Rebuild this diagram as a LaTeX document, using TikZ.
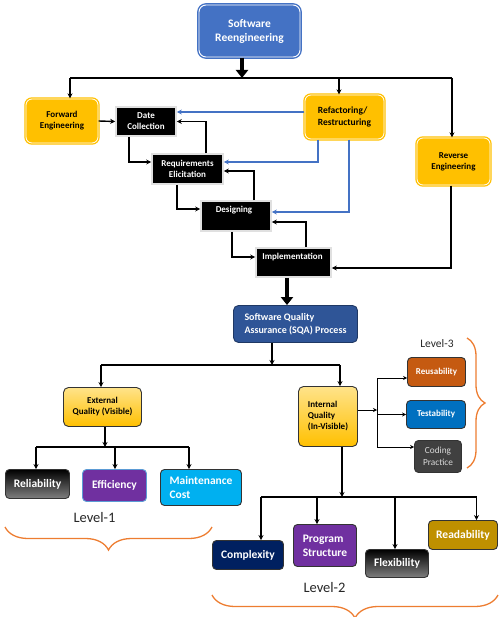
\documentclass[tikz,border=0pt]{standalone}
\usepackage{fontspec}
\setmainfont{Carlito}
\usetikzlibrary{arrows.meta,decorations.pathreplacing}
\definecolor{gold}{HTML}{FFC000}
\definecolor{goldlt}{HTML}{FFE38A}
\definecolor{bluetop}{HTML}{4472C4}
\definecolor{sqablue}{HTML}{2F5597}
\definecolor{sqadark}{HTML}{1F3864}
\definecolor{purp}{HTML}{7030A0}
\definecolor{cyanb}{HTML}{00B0F0}
\definecolor{rust}{HTML}{C55A11}
\definecolor{tblue}{HTML}{0070C0}
\definecolor{dgray}{HTML}{404040}
\definecolor{navy}{HTML}{002060}
\definecolor{dgold}{HTML}{BF9000}
\definecolor{orng}{HTML}{ED7D31}
\definecolor{lblue}{HTML}{5B9BD5}
\newcommand{\fs}[1]{\fontsize{#1}{#1*1.2}\selectfont}
\begin{document}
\begin{tikzpicture}[x=1pt,y=-1pt,
  goldbox/.style={draw=gold, double=white, double distance=0.8pt, line width=1.3pt, fill=gold,
    rounded corners=6pt, font=\bfseries\fontsize{9}{11}\selectfont, align=center, inner sep=1pt},
  bluebox/.style={draw=bluetop, double=white, double distance=0.9pt, line width=1.4pt, fill=bluetop,
    rounded corners=7pt, text=white, font=\bfseries\fontsize{11.5}{14}\selectfont, align=center, inner sep=1pt},
  blkbox/.style={fill=black, draw=black!12, line width=1.6pt, text=white,
    font=\bfseries\fontsize{9}{11}\selectfont, align=center, inner sep=1pt},
  wtext/.style={text=white, font=\bfseries\fontsize{9}{11}\selectfont, inner sep=0pt},
  qbox/.style={rounded corners=5pt, draw=black!80, line width=0.9pt, inner sep=1pt,
    font=\bfseries\fontsize{9}{11}\selectfont, align=left},
  lvbox/.style={rounded corners=4pt, draw=black!80, line width=0.9pt, inner sep=1pt, text=white,
    font=\bfseries\fontsize{11.5}{14}\selectfont, align=left},
  smbox/.style={rounded corners=4pt, draw=black!80, line width=0.9pt, inner sep=1pt, text=white,
    font=\bfseries\fontsize{9}{11}\selectfont, align=center},
  lvtext/.style={font=\fontsize{14.5}{17}\selectfont, text=black!85, inner sep=0pt},
  ln/.style={line width=1.4pt, black},
  arr/.style={ln, -{Stealth[length=5pt,width=5pt]}},
  barr/.style={line width=1.2pt, bluetop, -{Stealth[length=5pt,width=5pt]}},
  thk/.style={line width=3.5pt, -{Triangle[length=8pt,width=12pt]}},
  tarr/.style={line width=0.7pt, -{Stealth[length=4pt,width=4pt]}},
  brc/.style={draw=orng, line width=1.3pt, decorate},
]
\useasboundingbox (0,0) rectangle (503,617);

% ---- top part ----
\node[bluebox, minimum width=101pt, minimum height=52pt] (top) at (249.5,31) {Software\\Reengineering};
\node[goldbox, minimum width=72pt, minimum height=44pt] (fwd) at (62,121) {Forward\\Engineering};
\node[blkbox, minimum width=60pt, minimum height=29pt] (date) at (146,121.5) {Date\\Collection};
\node[goldbox, align=left, font=\bfseries\fontsize{9.5}{12}\selectfont, minimum width=79pt, minimum height=44pt] (refac) at (344.5,117) {Refactoring/\\Restructuring};
\node[goldbox, minimum width=73pt, minimum height=47pt] (rev) at (453.5,161.5) {Reverse\\Engineering};
\node[blkbox, minimum width=71pt, minimum height=30pt] (req) at (187.5,169) {Requirements\\Elicitation};
\node[blkbox, minimum width=70pt, minimum height=30pt] (des) at (236,216) {};
\node[wtext] (desT) at (234,210) {Designing};
\node[blkbox, minimum width=75pt, minimum height=29pt] (imp) at (293.5,262.5) {};
\node[wtext] (impT) at (292.5,257.5) {Implementation};

\coordinate (b1) at (242,78);
\coordinate (b1L) at (70,78);
\coordinate (b1M) at (339,78);
\coordinate (b1R) at (452,78);
\draw[thk] ([xshift=-7.5pt]top.south) -- (b1);
\draw[ln] (b1L) -- (b1R);
\draw[arr] (b1L) -- (b1L |- fwd.north);
\draw[arr] (b1M) -- (b1M |- refac.north);
\draw[arr] (b1R) -- (b1R |- rev.north);

\draw[arr] (fwd.east) -- (date.west);
\draw[arr] ([xshift=-17pt]date.south) |- ([yshift=7pt]req.west);
\draw[arr] ([xshift=18.5pt]req.north) |- (date.east);
\draw[barr] ([yshift=5pt]refac.west) -- ([yshift=9.5pt]date.east);
\draw[barr] ([xshift=-26.5pt]refac.south) |- ([yshift=7pt]req.east);
\draw[barr] ([xshift=4.5pt]refac.south) |- ([yshift=4pt]des.east);
\draw[arr] ([xshift=-10.5pt]req.south) |- ([yshift=7pt]des.west);
\draw[arr] ([xshift=18pt]des.north) |- ([yshift=-2pt]req.east);
\draw[arr] ([xshift=-4pt]des.south) |- ([yshift=5.5pt]imp.west);
\draw[arr] ([xshift=12.5pt]imp.north) |- ([yshift=-6pt]des.east);
\draw[arr] ([xshift=-2.5pt]rev.south) |- ([yshift=-5.5pt]imp.east);

% ---- SQA ----
\node[qbox, fill=sqablue, draw=sqadark, text=white, font=\bfseries\fontsize{10}{12.5}\selectfont, minimum width=124pt, minimum height=37pt] (sqa) at (295.5,324) {Software Quality\\Assurance (SQA) Process};
\draw[thk] ([xshift=-6.5pt]imp.south) -- ([xshift=-8.5pt]sqa.north);

\node[qbox, top color=goldlt, bottom color=gold, align=center, minimum width=78pt, minimum height=39pt] (ext) at (102.5,407) {External\\Quality (Visible)};
\node[qbox, top color=goldlt, bottom color=gold, minimum width=59pt, minimum height=60pt] (int) at (328,416.5) {Internal\\Quality\\(In-Visible)};

\coordinate (qb) at (272,365);
\coordinate (qbL) at (101,365);
\coordinate (qbR) at (340,365);
\draw[arr] ([xshift=-23.5pt]sqa.south) -- (qb);
\draw[ln] (qbL) -- (qbR);
\draw[arr] (qbL) -- (qbL |- ext.north);
\draw[arr] (qbR) -- (qbR |- int.north);

% ---- Level-1 ----
\node[lvbox, top color=black, bottom color=black!50, align=center, minimum width=64pt, minimum height=29pt] (rel) at (37.5,484) {Reliability};
\node[lvbox, fill=purp, draw=lblue, align=center, minimum width=64pt, minimum height=32pt] (eff) at (114.5,485.5) {Efficiency};
\node[lvbox, fill=cyanb, minimum width=81pt, minimum height=36pt] (mnt) at (201,487.5) {Maintenance\\Cost};

\coordinate (eb) at (105,447);
\coordinate (ebL) at (36,447);
\coordinate (ebM) at (115,447);
\coordinate (ebR) at (189,447);
\draw[arr] ([xshift=2.5pt]ext.south) -- (eb);
\draw[ln] (ebL) -- (ebR);
\draw[arr] (ebL) -- (ebL |- rel.north);
\draw[arr] (ebM) -- (ebM |- eff.north);
\draw[arr] (ebR) -- (ebR |- mnt.north);

\node[lvtext] (lv1) at (94.5,518) {Level-1};
\draw[brc, decoration={brace, mirror, amplitude=23pt}] (5,527) -- (212,527);

% ---- Level-3 ----
\node[smbox, fill=rust, minimum width=58pt, minimum height=29pt] (reu) at (436.5,372) {Reusability};
\node[smbox, fill=tblue, minimum width=59pt, minimum height=28pt] (tst) at (436,414.5) {Testability};
\node[smbox, fill=dgray, text=black!15, font=\fontsize{9.3}{11.5}\selectfont, minimum width=47pt, minimum height=32pt] (cod) at (438,456.5) {Coding\\Practice};

\coordinate (iv) at (377,410);
\draw[tarr] ([yshift=6.5pt]int.east) -- (iv);
\draw[tarr] (iv) |- ([yshift=-6pt]reu.west);
\draw[tarr] (iv) |- (tst.west);
\draw[tarr] (iv) |- ([yshift=9.5pt]cod.west);

\node[lvtext, font=\fontsize{11.5}{14}\selectfont] (lv3) at (437,344) {Level-3};
\draw[brc, decoration={brace, amplitude=18pt}] (467,338) -- (467,468);

% ---- Level-2 ----
\node[lvbox, fill=navy, align=center, minimum width=71pt, minimum height=29pt] (cpx) at (248,555) {Complexity};
\node[lvbox, fill=purp, minimum width=63pt, minimum height=42pt] (prg) at (325,545.5) {Program\\Structure};
\node[lvbox, top color=black, bottom color=black!50, align=center, minimum width=63pt, minimum height=28pt] (flx) at (397,563.5) {Flexibility};
\node[lvbox, fill=dgold, align=center, minimum width=69pt, minimum height=29pt] (rdb) at (463,535) {Readability};

\coordinate (ib) at (342,497);
\coordinate (ibL) at (261,497);
\coordinate (ibA) at (317,497);
\coordinate (ibB) at (395,497);
\coordinate (ibR) at (476.5,497);
\draw[arr] ([xshift=14pt]int.south) -- (ib);
\draw[ln] (ibL) -- (ibR);
\draw[arr] (ibL) -- (ibL |- cpx.north);
\draw[arr] (ibA) -- (ibA |- prg.north);
\draw[arr] (ibB) -- (ibB |- flx.north);
\draw[arr] (ibR) -- (ibR |- rdb.north);

\node[lvtext] (lv2) at (324.5,588) {Level-2};
\draw[brc, decoration={brace, mirror, amplitude=23pt}] (212,595) -- (498,595);
\end{tikzpicture}
\end{document}
